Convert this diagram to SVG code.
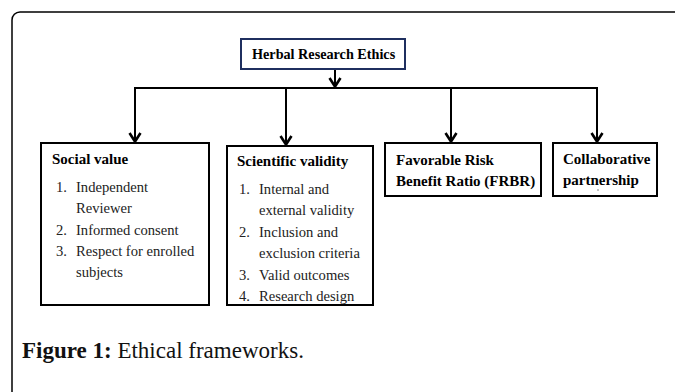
<svg xmlns="http://www.w3.org/2000/svg" width="675" height="392" viewBox="0 0 675 392">
<defs>
<marker id="arr" markerWidth="14" markerHeight="14" refX="12" refY="7" orient="auto" markerUnits="userSpaceOnUse" viewBox="0 0 14 14" overflow="visible">
<path d="M3,1.5 L11.5,7 L3,12.5" fill="none" stroke="#000" stroke-width="2.6"/>
</marker>
</defs>
<style>
.box{fill:#fff;stroke:#000;stroke-width:2}
.title{fill:#fff;stroke:#1f2f5f;stroke-width:2}
.hd{font-family:"Liberation Serif",serif;font-weight:bold;font-size:15px;fill:#000}
.ht{font-family:"Liberation Serif",serif;font-weight:bold;font-size:14.2px;fill:#000}
.tx{font-family:"Liberation Serif",serif;font-size:14.6px;fill:#222}
.ln{fill:none;stroke:#000;stroke-width:2}
.cap{font-family:"Liberation Serif",serif;font-size:23px;fill:#111}
</style>
<rect x="0" y="0" width="675" height="392" fill="#fff"/>
<rect x="12" y="12" width="1000" height="1000" rx="8" fill="none" stroke="#000" stroke-width="1.5"/>
<g id="connectors">
<line class="ln" x1="335" y1="69" x2="335" y2="87" marker-end="url(#arr)"/>
<line class="ln" x1="134" y1="88" x2="598" y2="88"/>
<line class="ln" x1="135" y1="88" x2="135" y2="142" marker-end="url(#arr)"/>
<line class="ln" x1="286" y1="88" x2="286" y2="145" marker-end="url(#arr)"/>
<line class="ln" x1="451" y1="88" x2="451" y2="142" marker-end="url(#arr)"/>
<line class="ln" x1="597" y1="88" x2="597" y2="142" marker-end="url(#arr)"/>
</g>
<g id="herbal">
<rect class="title" x="241" y="39" width="164" height="30"/>
<text class="ht" x="252" y="59">Herbal Research Ethics</text>
</g>
<g id="social">
<rect class="box" x="41" y="143" width="168" height="162"/>
<text class="hd" x="52" y="164">Social value</text>
<text class="tx" x="56" y="192">1.</text><text class="tx" x="76" y="192">Independent</text>
<text class="tx" x="76" y="213">Reviewer</text>
<text class="tx" x="56" y="235">2.</text><text class="tx" x="76" y="235">Informed consent</text>
<text class="tx" x="56" y="256">3.</text><text class="tx" x="76" y="256">Respect for enrolled</text>
<text class="tx" x="76" y="277">subjects</text>
</g>
<g id="scientific">
<rect class="box" x="227" y="146" width="146" height="159"/>
<text class="hd" x="237" y="166">Scientific validity</text>
<text class="tx" x="239" y="194">1.</text><text class="tx" x="259" y="194">Internal and</text>
<text class="tx" x="259" y="215">external validity</text>
<text class="tx" x="239" y="237">2.</text><text class="tx" x="259" y="237">Inclusion and</text>
<text class="tx" x="259" y="258">exclusion criteria</text>
<text class="tx" x="239" y="280">3.</text><text class="tx" x="259" y="280">Valid outcomes</text>
<text class="tx" x="239" y="301">4.</text><text class="tx" x="259" y="301">Research design</text>
</g>
<g id="frbr">
<rect class="box" x="385" y="143" width="156" height="53"/>
<text class="hd" x="396" y="165">Favorable Risk</text>
<text class="hd" x="396" y="186">Benefit Ratio (FRBR)</text>
</g>
<g id="collab">
<rect class="box" x="553" y="143" width="104" height="53"/>
<text class="hd" x="563" y="164">Collaborative</text>
<text class="hd" x="563" y="185">partnership</text>
<circle cx="598" cy="190" r="0.7" fill="#555"/>
</g>
<text class="cap" x="22" y="358"><tspan font-weight="bold">Figure 1:</tspan> Ethical frameworks.</text>
</svg>
